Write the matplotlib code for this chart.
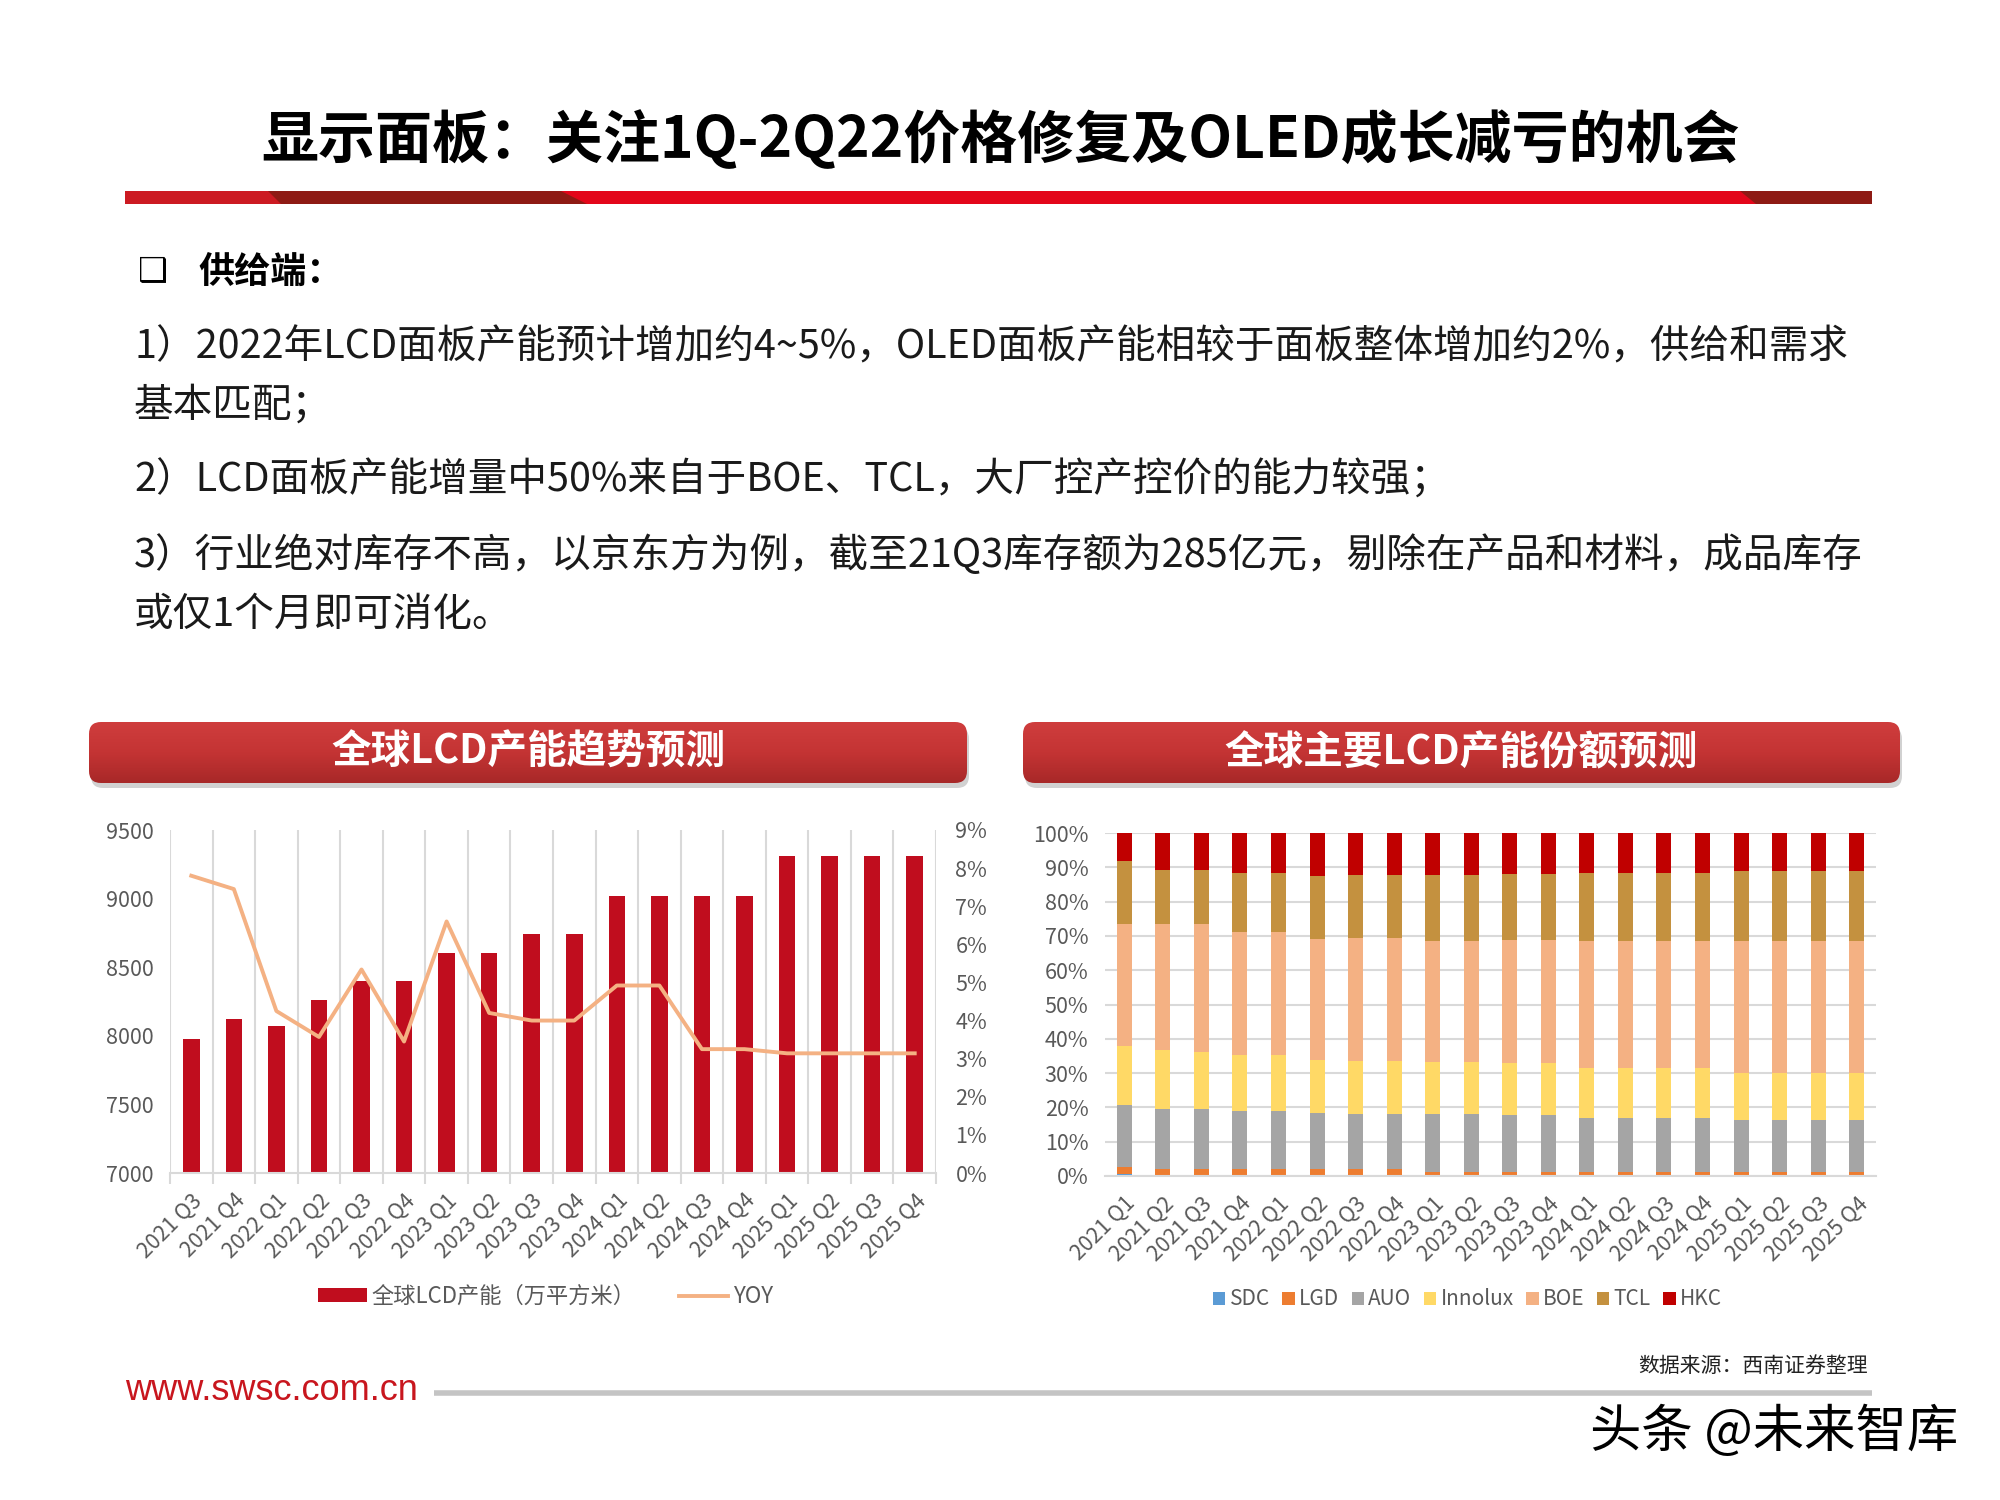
import numpy as np
import matplotlib
matplotlib.use('Agg')
import matplotlib.pyplot as plt
from matplotlib.patches import FancyBboxPatch, Polygon, Rectangle
from matplotlib.colors import LinearSegmentedColormap

plt.rcParams['font.family'] = ['Noto Sans CJK SC', 'DejaVu Sans']

# ---- data: left chart (global LCD capacity forecast) ----
quarters_left = ['2021 Q3', '2021 Q4', '2022 Q1', '2022 Q2', '2022 Q3', '2022 Q4',
                 '2023 Q1', '2023 Q2', '2023 Q3', '2023 Q4', '2024 Q1', '2024 Q2',
                 '2024 Q3', '2024 Q4', '2025 Q1', '2025 Q2', '2025 Q3', '2025 Q4']
capacity = [7980, 8120, 8070, 8260, 8400, 8400, 8600, 8600, 8740, 8740,
            9020, 9020, 9020, 9020, 9310, 9310, 9310, 9310]
yoy = [7.80, 7.45, 4.25, 3.57, 5.34, 3.45, 6.60, 4.20, 4.00, 4.00,
       4.92, 4.92, 3.25, 3.25, 3.14, 3.14, 3.14, 3.14]

# ---- data: right chart (capacity share by maker, %) ----
quarters_right = ['2021 Q1', '2021 Q2', '2021 Q3', '2021 Q4', '2022 Q1', '2022 Q2', '2022 Q3',
                  '2022 Q4', '2023 Q1', '2023 Q2', '2023 Q3', '2023 Q4', '2024 Q1', '2024 Q2',
                  '2024 Q3', '2024 Q4', '2025 Q1', '2025 Q2', '2025 Q3', '2025 Q4']
makers = ['SDC', 'LGD', 'AUO', 'Innolux', 'BOE', 'TCL', 'HKC']
sdc = [0.5] + [0.0] * 19
lgd = [2.1, 1.9, 1.9, 1.9, 1.9, 1.9, 1.9, 1.9] + [1.3] * 12
auo = [18.1, 17.7, 17.7, 17.1, 17.1, 16.4, 16.1, 16.1, 16.7, 16.7, 16.4, 16.4,
       15.7, 15.7, 15.7, 15.7, 14.9, 14.9, 14.9, 14.9]
innolux = [17.1, 17.0, 16.6, 16.2, 16.2, 15.5, 15.5, 15.5, 15.1, 15.1, 15.1, 15.1,
           14.5, 14.5, 14.5, 14.5, 13.8, 13.8, 13.8, 13.8]
boe = [35.8, 37.0, 37.4, 35.9, 35.9, 35.3, 36.0, 36.0, 35.4, 35.4, 36.1, 36.1,
       37.0, 37.0, 37.0, 37.0, 38.5, 38.5, 38.5, 38.5]
tcl = [18.1, 15.7, 15.7, 17.2, 17.2, 18.3, 18.2, 18.2, 19.2, 19.2, 19.1, 19.1,
       19.8, 19.8, 19.8, 19.8, 20.5, 20.5, 20.5, 20.5]
hkc = [8.3, 10.7, 10.7, 11.7, 11.7, 12.6, 12.3, 12.3, 12.3, 12.3, 12.0, 12.0,
       11.7, 11.7, 11.7, 11.7, 11.0, 11.0, 11.0, 11.0]
maker_colors = ['#5b9bd5', '#ed7d31', '#a5a5a5', '#ffd966', '#f4b183', '#c4913f', '#c00000']

# ---- slide texts ----
title = '显示面板：关注1Q-2Q22价格修复及OLED成长减亏的机会'
body_lines = ['1）2022年LCD面板产能预计增加约4~5%，OLED面板产能相较于面板整体增加约2%，供给和需求',
              '基本匹配；',
              '2）LCD面板产能增量中50%来自于BOE、TCL，大厂控产控价的能力较强；',
              '3）行业绝对库存不高，以京东方为例，截至21Q3库存额为285亿元，剔除在产品和材料，成品库存',
              '或仅1个月即可消化。']
body_y = [347, 406, 481, 556, 615]

gray_txt = '#595959'
grid_col = '#d9d9d9'
tick_fs = 15.5
legend_fs = 16

fig = plt.figure(figsize=(20, 15), dpi=100)

# background axes in pixel coordinates (y goes down)
bg = fig.add_axes([0, 0, 1, 1])
bg.axis('off')

bg.text(1001, 140, title, ha='center', va='center', fontsize=41, fontweight='bold', color='black')

# red header stripe
bg.add_patch(Rectangle((125, 191), 1747, 13, fc='#e3061a', ec='none'))
bg.add_patch(Polygon([(125, 191), (268, 191), (281, 204), (125, 204)], fc='#cc1a22', ec='none'))
bg.add_patch(Polygon([(268, 191), (561, 191), (587, 204), (281, 204)], fc='#8e1a14', ec='none'))
bg.add_patch(Polygon([(1740, 191), (1872, 191), (1872, 204), (1756, 204)], fc='#8e1a14', ec='none'))

# bullet heading + body text
bg.text(138, 272, '❑', ha='left', va='center', fontsize=24, family=['DejaVu Sans'], color='black')
bg.text(198, 272, '供给端：', ha='left', va='center', fontsize=26, fontweight='bold', color='black')
for s, y in zip(body_lines, body_y):
    bg.text(134, y, s, ha='left', va='center', fontsize=28.5, color='#1a1a1a')

# chart banners with vertical red gradient
banner_cmap = LinearSegmentedColormap.from_list('banner', ['#cf3d3d', '#c43434', '#a82828'])


def banner(x, y, w, h, text):
    shadow = FancyBboxPatch((x + 2, y + 5), w, h, boxstyle='round,pad=0,rounding_size=12',
                            fc='#9a9a9a', ec='none', alpha=0.45)
    bg.add_patch(shadow)
    box = FancyBboxPatch((x, y), w, h, boxstyle='round,pad=0,rounding_size=12', fc='none', ec='none')
    bg.add_patch(box)
    grad = np.linspace(0, 1, 64).reshape(-1, 1)
    im = bg.imshow(grad, extent=(x, x + w, y + h, y), cmap=banner_cmap, aspect='auto', zorder=2)
    im.set_clip_path(box)
    bg.text(x + w / 2, y + h / 2, text, ha='center', va='center', fontsize=28.5,
            fontweight='bold', color='white', zorder=3)


banner(89, 722, 878, 61, '全球LCD产能趋势预测')
banner(1023, 722, 877, 61, '全球主要LCD产能份额预测')

# footer
bg.text(1868, 1366, '数据来源：西南证券整理', ha='right', va='center', fontsize=15, color='#222222', style='italic')
bg.text(125, 1390, 'www.swsc.com.cn', ha='left', va='center', fontsize=26,
        family=['Liberation Sans'], color='#c8161e')
bg.plot([434, 1872], [1393, 1393], color='#c4c4c4', lw=4, solid_capstyle='butt')
bg.text(1958, 1432, '头条 @未来智库', ha='right', va='center', fontsize=37, color='black')

bg.set_xlim(0, 2000)
bg.set_ylim(1500, 0)

# ---- left chart ----
ax1 = fig.add_axes([170 / 2000, 1 - 1173 / 1500, (936 - 170) / 2000, (1173 - 830) / 1500])
ax1.patch.set_alpha(0)
x1 = np.arange(len(quarters_left))
ax1.bar(x1, capacity, width=0.39, color='#c00d1e', label='全球LCD产能（万平方米）', zorder=2)
ax1.set_ylim(7000, 9500)
ax1.set_yticks(np.arange(7000, 9501, 500))
ax1.set_xlim(-0.5, len(quarters_left) - 0.5)
ax1.set_xticks(x1)
ax1.set_xticklabels(quarters_left, rotation=45, ha='right', va='top', rotation_mode='anchor')
ax1.set_xticks(np.arange(-0.5, len(quarters_left), 1), minor=True)
ax1.grid(axis='x', which='minor', color=grid_col, lw=1.5, zorder=0)
ax1.tick_params(axis='x', which='major', length=0, pad=12, labelsize=tick_fs, labelcolor=gray_txt)
ax1.tick_params(axis='x', which='minor', length=8, width=1.5, color=grid_col)
ax1.tick_params(axis='y', length=0, pad=12, labelsize=tick_fs, labelcolor=gray_txt)
for sp in ['top', 'right', 'left']:
    ax1.spines[sp].set_visible(False)
ax1.spines['bottom'].set_color(grid_col)
ax1.spines['bottom'].set_linewidth(1.5)

ax1b = ax1.twinx()
ax1b.plot(x1, yoy, color='#f4b183', lw=2.8, label='YOY', zorder=3)
ax1b.set_ylim(0, 9)
ax1b.set_yticks(np.arange(0, 10, 1))
ax1b.set_yticklabels([f'{v}%' for v in range(10)])
ax1b.tick_params(axis='y', length=0, pad=14, labelsize=tick_fs, labelcolor=gray_txt)
for sp in ax1b.spines.values():
    sp.set_visible(False)

h1, l1 = ax1.get_legend_handles_labels()
h2, l2 = ax1b.get_legend_handles_labels()
ax1.legend(h1 + h2, l1 + l2, loc='center', bbox_to_anchor=(0.49, -0.36), ncol=2, frameon=False,
           fontsize=legend_fs, labelcolor=gray_txt, handlelength=2.2, handleheight=0.6,
           columnspacing=2.0, handletextpad=0.2)

# ---- right chart ----
ax2 = fig.add_axes([1105 / 2000, 1 - 1176 / 1500, (1876 - 1105) / 2000, (1176 - 833) / 1500])
ax2.patch.set_alpha(0)
x2 = np.arange(len(quarters_right))
bottom = np.zeros(len(quarters_right))
for name, vals, col in zip(makers, [sdc, lgd, auo, innolux, boe, tcl, hkc], maker_colors):
    ax2.bar(x2, vals, bottom=bottom, width=0.39, color=col, label=name, zorder=2)
    bottom += np.array(vals)
ax2.set_ylim(0, 100)
ax2.set_yticks(np.arange(0, 101, 10))
ax2.set_yticklabels([f'{v}%' for v in range(0, 101, 10)])
ax2.set_xlim(-0.5, len(quarters_right) - 0.5)
ax2.set_xticks(x2)
ax2.set_xticklabels(quarters_right, rotation=45, ha='right', va='top', rotation_mode='anchor')
ax2.grid(axis='y', color=grid_col, lw=1.5, zorder=0)
ax2.tick_params(axis='x', length=0, pad=12, labelsize=tick_fs, labelcolor=gray_txt)
ax2.tick_params(axis='y', length=0, pad=12, labelsize=tick_fs, labelcolor=gray_txt)
for sp in ['top', 'right', 'left']:
    ax2.spines[sp].set_visible(False)
ax2.spines['bottom'].set_color(grid_col)
ax2.spines['bottom'].set_linewidth(1.5)
ax2.legend(loc='center', bbox_to_anchor=(0.47, -0.36), ncol=7, frameon=False, fontsize=15,
           labelcolor=gray_txt, handlelength=0.6, handleheight=0.6, columnspacing=0.6,
           handletextpad=0.2)

fig.savefig('out.png', dpi=100)
